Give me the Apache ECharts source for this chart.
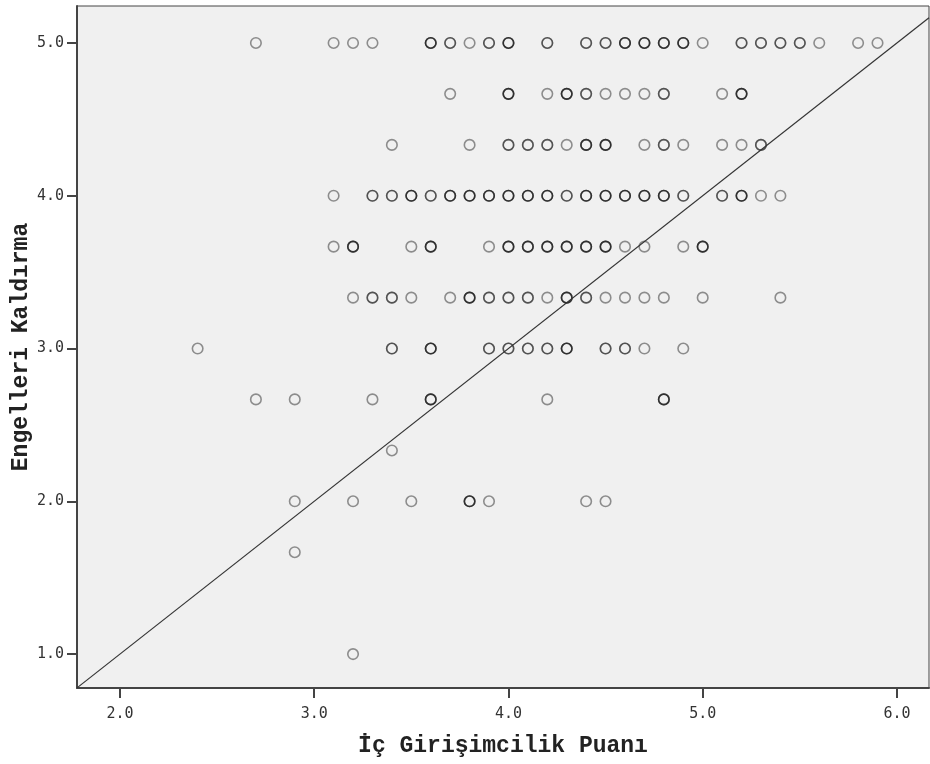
<!DOCTYPE html>
<html>
<head>
<meta charset="utf-8">
<script src="https://cdn.jsdelivr.net/npm/echarts@6/dist/echarts.min.js"></script>
<style>
html,body{margin:0;padding:0;background:#fff;}
#chart{width:930px;height:764px;}
</style>
</head>
<body>
<div id="chart"></div>
<script>
// Each row: [x value, number of overlapping cases] at a given y level
const yLevels = [5.0, 4.667, 4.333, 4.0, 3.667, 3.333, 3.0, 2.667, 2.333, 2.0, 1.667, 1.0];
const row_5_000 = [[2.7,1],[3.1,1],[3.2,1],[3.3,1],[3.6,3],[3.7,2],[3.8,1],[3.9,2],[4.0,3],[4.2,2],[4.4,2],[4.5,2],[4.6,3],[4.7,3],[4.8,3],[4.9,3],[5.0,1],[5.2,2],[5.3,2],[5.4,2],[5.5,2],[5.6,1],[5.8,1],[5.9,1]];
const row_4_667 = [[3.7,1],[4.0,3],[4.2,1],[4.3,3],[4.4,2],[4.5,1],[4.6,1],[4.7,1],[4.8,2],[5.1,1],[5.2,3]];
const row_4_333 = [[3.4,1],[3.8,1],[4.0,2],[4.1,2],[4.2,2],[4.3,1],[4.4,3],[4.5,3],[4.7,1],[4.8,2],[4.9,1],[5.1,1],[5.2,1],[5.3,2]];
const row_4_000 = [[3.1,1],[3.3,2],[3.4,2],[3.5,3],[3.6,2],[3.7,3],[3.8,3],[3.9,3],[4.0,3],[4.1,3],[4.2,3],[4.3,2],[4.4,3],[4.5,3],[4.6,3],[4.7,3],[4.8,3],[4.9,2],[5.1,2],[5.2,3],[5.3,1],[5.4,1]];
const row_3_667 = [[3.1,1],[3.2,3],[3.5,1],[3.6,3],[3.9,1],[4.0,3],[4.1,3],[4.2,3],[4.3,3],[4.4,3],[4.5,3],[4.6,1],[4.7,1],[4.9,1],[5.0,3]];
const row_3_333 = [[3.2,1],[3.3,2],[3.4,2],[3.5,1],[3.7,1],[3.8,3],[3.9,2],[4.0,2],[4.1,2],[4.2,1],[4.3,3],[4.4,2],[4.5,1],[4.6,1],[4.7,1],[4.8,1],[5.0,1],[5.4,1]];
const row_3_000 = [[2.4,1],[3.4,2],[3.6,3],[3.9,2],[4.0,2],[4.1,2],[4.2,2],[4.3,3],[4.5,2],[4.6,2],[4.7,1],[4.9,1]];
const row_2_667 = [[2.7,1],[2.9,1],[3.3,1],[3.6,3],[4.2,1],[4.8,3]];
const row_2_333 = [[3.4,1]];
const row_2_000 = [[2.9,1],[3.2,1],[3.5,1],[3.8,3],[3.9,1],[4.4,1],[4.5,1]];
const row_1_667 = [[2.9,1]];
const row_1_000 = [[3.2,1]];
const rows = [row_5_000,row_4_667,row_4_333,row_4_000,row_3_667,row_3_333,row_3_000,row_2_667,row_2_333,row_2_000,row_1_667,row_1_000];

const xTicks = [2.0, 3.0, 4.0, 5.0, 6.0];
const yTicks = [1.0, 2.0, 3.0, 4.0, 5.0];
const xMin = 1.779, xMax = 6.165;
const yMin = 0.778, yMax = 5.242;
const refSlope = 1.0, refIntercept = -1.0;

const points = [];
rows.forEach((row, i) => {
  row.forEach(([x, n]) => { for (let k = 0; k < n; k++) points.push([x, yLevels[i]]); });
});
const refLine = [[xMin, refSlope * xMin + refIntercept], [xMax, refSlope * xMax + refIntercept]];

const chart = echarts.init(document.getElementById('chart'));
const labelStyle = { fontFamily: 'DejaVu Sans Mono', fontSize: 15, color: '#333' };
const nameStyle = { fontFamily: 'Liberation Mono', fontWeight: 'bold', fontSize: 23, color: '#222' };
chart.setOption({
  animation: false,
  backgroundColor: '#ffffff',
  grid: { left: 77, top: 6, right: 1, bottom: 76, show: true, backgroundColor: '#f0f0f0', borderColor: '#444', borderWidth: 1, containLabel: false, outerBoundsMode: 'none' },
  xAxis: {
    type: 'value', min: xMin, max: xMax,
    name: 'İç Girişimcilik Puanı', nameLocation: 'middle', nameGap: 47, nameMoveOverlap: false, nameTextStyle: nameStyle,
    axisLine: { show: true, onZero: false, lineStyle: { color: '#444', width: 2 } },
    axisTick: { show: true, length: 10, customValues: xTicks, lineStyle: { color: '#444', width: 2 } },
    axisLabel: Object.assign({ margin: 19, customValues: xTicks, formatter: v => v.toFixed(1) }, labelStyle),
    splitLine: { show: false }
  },
  yAxis: {
    type: 'value', min: yMin, max: yMax,
    name: 'Engelleri Kaldırma', nameLocation: 'middle', nameGap: 44, nameRotate: 90, nameMoveOverlap: false, nameTextStyle: nameStyle,
    axisLine: { show: true, onZero: false, lineStyle: { color: '#444', width: 2 } },
    axisTick: { show: true, length: 10, customValues: yTicks, lineStyle: { color: '#444', width: 2 } },
    axisLabel: Object.assign({ margin: 13, customValues: yTicks, formatter: v => v.toFixed(1) }, labelStyle),
    splitLine: { show: false }
  },
  series: [
    {
      type: 'scatter', data: points, symbol: 'circle', symbolSize: 10.5,
      itemStyle: { color: 'rgba(0,0,0,0)', borderColor: 'rgba(0,0,0,0.52)', borderWidth: 1.6 },
      emphasis: { disabled: true }, silent: true
    },
    {
      type: 'line', data: refLine, symbol: 'none', silent: true,
      lineStyle: { color: '#333', width: 1.2 }
    }
  ]
});
</script>
</body>
</html>
